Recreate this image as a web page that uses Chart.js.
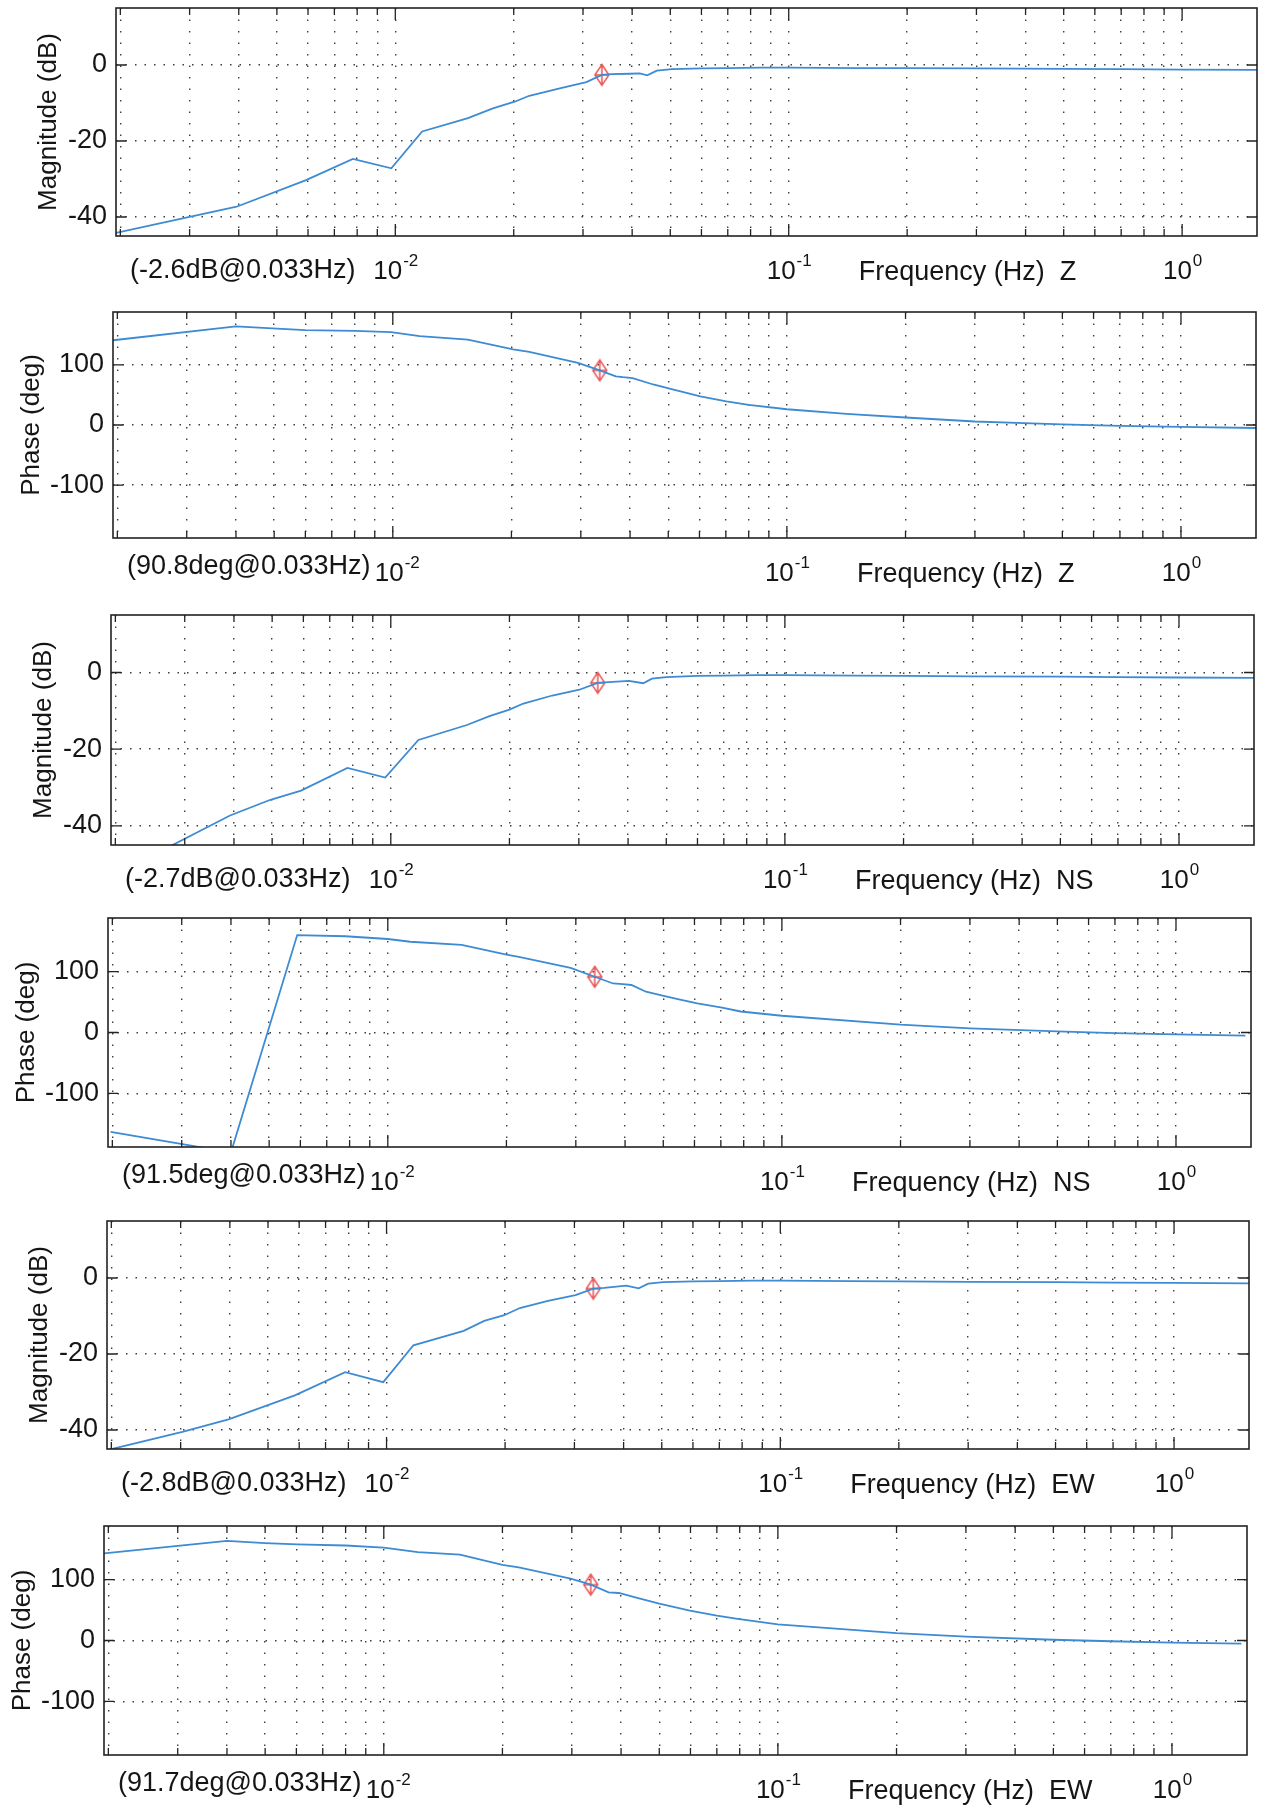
<!DOCTYPE html>
<html>
<head>
<meta charset="utf-8">
<script src="https://cdn.jsdelivr.net/npm/chart.js@4.4.0/dist/chart.umd.min.js"></script>
<style>
  body { margin: 0; background: #fff; width: 1274px; height: 1806px; position: relative; overflow: hidden; }
  .panel { position: absolute; left: 0; }
</style>
</head>
<body>
<script>
// ---- data ----
const magFreqZ = [0.00195, 0.00395, 0.00593, 0.0078, 0.00977, 0.0117, 0.0153, 0.0177, 0.0202, 0.0219, 0.0265, 0.0306, 0.0335, 0.0355, 0.0395, 0.0418, 0.0437, 0.0462, 0.0505, 0.06, 0.07, 0.085, 0.1, 0.15, 0.2, 0.3, 0.5, 0.7, 1.0, 1.55];
const magZ = [-44.2, -37.3, -30.3, -24.7, -27.2, -17.5, -14.0, -11.4, -9.6, -8.1, -6.0, -4.5, -2.6, -2.4, -2.3, -2.2, -2.7, -1.5, -1.1, -0.9, -0.8, -0.7, -0.7, -0.8, -0.8, -0.9, -1.0, -1.1, -1.2, -1.3];

const phaseFreqZ = [0.00195, 0.004, 0.00508, 0.006, 0.008, 0.0099, 0.0117, 0.0155, 0.0202, 0.0222, 0.0295, 0.0335, 0.0368, 0.0384, 0.0406, 0.0458, 0.0504, 0.0603, 0.0702, 0.08, 0.1, 0.1417, 0.2, 0.3, 0.4, 0.5, 0.7, 1.0, 1.55];
const phaseZ = [141, 164, 160.5, 157.7, 156.7, 154.5, 147.8, 142.2, 125.7, 121.8, 103.3, 90.8, 81, 79.5, 78, 67.4, 60.4, 47.5, 39.4, 33.6, 26.2, 18.5, 12.5, 5.8, 3.2, 1.0, -1.5, -3.0, -5.0];

const magFreqNS = [0.00195, 0.00277, 0.00391, 0.00495, 0.00592, 0.00776, 0.00968, 0.01175, 0.0156, 0.0178, 0.02, 0.0217, 0.0257, 0.0301, 0.0335, 0.0357, 0.0402, 0.0437, 0.046, 0.05, 0.06, 0.07, 0.085, 0.1, 0.15, 0.2, 0.3, 0.5, 0.7, 1.0, 1.55];
const magNS = [-53, -45.2, -37.3, -33.2, -30.8, -24.9, -27.4, -17.6, -13.7, -11.4, -9.7, -8.1, -6.0, -4.5, -2.7, -2.5, -2.2, -2.8, -1.6, -1.2, -0.9, -0.8, -0.7, -0.7, -0.8, -0.9, -1.0, -1.1, -1.2, -1.3, -1.4];

const phaseFreqNS = [0.00198, 0.004, 0.00589, 0.0078, 0.01, 0.0114, 0.0154, 0.02, 0.0215, 0.0291, 0.0335, 0.0373, 0.0395, 0.0415, 0.0452, 0.0498, 0.0548, 0.061, 0.0705, 0.0786, 0.1, 0.2, 0.3, 0.5, 0.7, 1.0, 1.5];
const phaseNS = [-163, -197, 160, 158, 153.5, 149, 144, 128, 124, 106, 91.5, 80.5, 79.5, 78, 67, 60.4, 54.5, 48, 41, 34.5, 27.5, 12.8, 6.8, 1.8, -1.0, -3.0, -5.0];

const magFreqEW = [0.00195, 0.00303, 0.00397, 0.00585, 0.00785, 0.00981, 0.0117, 0.0157, 0.0177, 0.0199, 0.0218, 0.0257, 0.0302, 0.0335, 0.0357, 0.0406, 0.0437, 0.0462, 0.0505, 0.06, 0.07, 0.085, 0.1, 0.15, 0.2, 0.3, 0.5, 0.7, 1.0, 1.55];
const magEW = [-45.3, -40.5, -37.2, -30.9, -24.8, -27.4, -17.7, -13.9, -11.3, -9.8, -7.9, -6.0, -4.5, -2.8, -2.6, -2.0, -2.7, -1.5, -1.1, -0.9, -0.8, -0.7, -0.7, -0.8, -0.9, -1.0, -1.1, -1.2, -1.3, -1.4];

const phaseFreqEW = [0.00195, 0.004, 0.005, 0.00604, 0.008, 0.01, 0.0122, 0.0156, 0.02, 0.022, 0.0298, 0.0335, 0.0372, 0.0395, 0.0442, 0.05, 0.0598, 0.07, 0.079, 0.1, 0.2, 0.3, 0.5, 0.7, 1.0, 1.5];
const phaseEW = [143, 163.5, 160, 157.7, 156, 152.5, 145, 141, 124, 120, 101.4, 91.7, 79, 78, 69.7, 60.4, 49, 40.9, 35.6, 26.5, 12.0, 6.5, 1.2, -1.2, -3.5, -5.0];

const markerFreq = 0.0335;
const markerValues = [-2.6, 90.8, -2.7, 91.5, -2.8, 91.7];
const markerLabels = ["(-2.6dB@0.033Hz)", "(90.8deg@0.033Hz)", "(-2.7dB@0.033Hz)", "(91.5deg@0.033Hz)", "(-2.8dB@0.033Hz)", "(91.7deg@0.033Hz)"];
const components = ["Z", "Z", "NS", "NS", "EW", "EW"];

const xGridTicks = [0.002, 0.003, 0.004, 0.005, 0.006, 0.007, 0.008, 0.009,
  0.01, 0.02, 0.03, 0.04, 0.05, 0.06, 0.07, 0.08, 0.09,
  0.1, 0.2, 0.3, 0.4, 0.5, 0.6, 0.7, 0.8, 0.9, 1];
const xDecades = [0.01, 0.1, 1];
const xDecadeExp = ["-2", "-1", "0"];
const magTicks = [-40, -20, 0];
const phaseTicks = [-100, 0, 100];
const xMin = 0.00195, xMax = 1.55;
const magMin = -45, magMax = 15;
const phaseMin = -188, phaseMax = 188;

// ---- styles / layout ----
const FONT = '"Liberation Sans", Arial, Helvetica, sans-serif';
const BLUE = "#3d8bd3";
const RED = "#ea5656";
const TEXT = "#151515";
const GRID = "rgba(40,40,40,0.9)";
const PAD_TOP = 8;
const BELOW = 58;

const panels = [
  { top: 7,    bottom: 236,  left: 116, right: 1257, kind: "mag",   freq: magFreqZ,    vals: magZ },
  { top: 311,  bottom: 538,  left: 113, right: 1256, kind: "phase", freq: phaseFreqZ,  vals: phaseZ },
  { top: 614,  bottom: 845,  left: 111, right: 1254, kind: "mag",   freq: magFreqNS,   vals: magNS },
  { top: 917,  bottom: 1147, left: 108, right: 1251, kind: "phase", freq: phaseFreqNS, vals: phaseNS },
  { top: 1220, bottom: 1449, left: 107, right: 1249, kind: "mag",   freq: magFreqEW,   vals: magEW },
  { top: 1525, bottom: 1755, left: 104, right: 1247, kind: "phase", freq: phaseFreqEW, vals: phaseEW }
];

function makeMarker() {
  const c = document.createElement("canvas");
  c.width = 18; c.height = 24;
  const g = c.getContext("2d");
  g.strokeStyle = RED;
  g.lineWidth = 1.5;
  g.beginPath();
  g.moveTo(9, 1.5); g.lineTo(16, 12); g.lineTo(9, 22.5); g.lineTo(2, 12); g.closePath();
  g.moveTo(9, 1.5); g.lineTo(9, 22.5);
  g.moveTo(2, 12); g.lineTo(16, 12);
  g.stroke();
  return c;
}
const markerImg = makeMarker();

function drawPow(ctx, x, y, exp) {
  ctx.textAlign = "left";
  ctx.textBaseline = "alphabetic";
  ctx.font = "26px " + FONT;
  const w1 = ctx.measureText("10").width;
  ctx.font = "17px " + FONT;
  const w2 = ctx.measureText(exp).width;
  const x0 = x - (w1 + w2) / 2;
  ctx.font = "26px " + FONT;
  ctx.fillText("10", x0, y);
  ctx.font = "17px " + FONT;
  ctx.fillText(exp, x0 + w1 + 1, y - 13);
}

const bodeFrame = {
  id: "bodeFrame",
  afterDraw(chart, args, opts) {
    const ctx = chart.ctx;
    const a = chart.chartArea;
    const xs = chart.scales.x, ys = chart.scales.y;
    ctx.save();
    ctx.setLineDash([]);
    ctx.strokeStyle = "#222";
    ctx.lineWidth = 1.6;
    ctx.strokeRect(a.left, a.top, a.right - a.left, a.bottom - a.top);

    // inward tick marks
    ctx.lineWidth = 1.3;
    ctx.beginPath();
    xGridTicks.forEach(v => {
      const px = xs.getPixelForValue(v);
      const len = xDecades.includes(v) ? 12 : 7;
      ctx.moveTo(px, a.bottom); ctx.lineTo(px, a.bottom - len);
      ctx.moveTo(px, a.top); ctx.lineTo(px, a.top + len);
    });
    opts.yTicks.forEach(v => {
      const py = ys.getPixelForValue(v);
      ctx.moveTo(a.left, py); ctx.lineTo(a.left + 10, py);
      ctx.moveTo(a.right, py); ctx.lineTo(a.right - 10, py);
    });
    ctx.stroke();

    // x labels
    ctx.fillStyle = TEXT;
    xDecades.forEach((v, i) => drawPow(ctx, xs.getPixelForValue(v) + opts.decShift[i], a.bottom + 43, xDecadeExp[i]));

    ctx.font = "27px " + FONT;
    ctx.textAlign = "left";
    ctx.textBaseline = "alphabetic";
    ctx.fillText(opts.note, a.left + 14, a.bottom + opts.noteDy);
    ctx.fillText("Frequency (Hz)  " + opts.comp, xs.getPixelForValue(0.1) + 70, a.bottom + 44);

    // y title
    ctx.font = "26px " + FONT;
    ctx.save();
    ctx.translate(a.left - opts.titleOffset, (a.top + a.bottom) / 2);
    ctx.rotate(-Math.PI / 2);
    ctx.textAlign = "center";
    ctx.textBaseline = "middle";
    ctx.fillText(opts.title, 0, 0);
    ctx.restore();

    ctx.restore();
  }
};

function noPad(s) {
  s.paddingTop = 0; s.paddingBottom = 0; s.paddingLeft = 0; s.paddingRight = 0;
}

panels.forEach((p, i) => {
  const isMag = p.kind === "mag";
  const chartH = p.bottom - p.top;
  const H = PAD_TOP + chartH + BELOW;
  const div = document.createElement("div");
  div.className = "panel";
  div.style.top = (p.top - PAD_TOP) + "px";
  const canvas = document.createElement("canvas");
  canvas.width = 1274;
  canvas.height = H;
  div.appendChild(canvas);
  document.body.appendChild(div);

  const yTicks = isMag ? magTicks : phaseTicks;

  new Chart(canvas.getContext("2d"), {
    type: "line",
    data: {
      datasets: [
        {
          data: p.freq.map((f, k) => ({ x: f, y: p.vals[k] })),
          borderColor: BLUE,
          borderWidth: 1.8,
          pointRadius: 0,
          tension: 0,
          fill: false
        },
        {
          data: [{ x: markerFreq, y: markerValues[i] }],
          showLine: false,
          pointStyle: markerImg,
          pointRadius: 8,
          borderColor: RED
        }
      ]
    },
    options: {
      responsive: false,
      animation: false,
      events: [],
      layout: { padding: { top: PAD_TOP, left: 0, right: 1274 - p.right, bottom: 0 } },
      plugins: {
        legend: { display: false },
        tooltip: { enabled: false },
        bodeFrame: {
          yTicks,
          note: markerLabels[i],
          noteDy: isMag ? 42 : 36,
          decShift: isMag ? [0, 0, 0] : [4, 0, 0],
          comp: components[i],
          title: isMag ? "Magnitude (dB)" : "Phase (deg)",
          titleOffset: isMag ? 67 : 81
        }
      },
      scales: {
        x: {
          type: "logarithmic",
          min: xMin,
          max: xMax,
          afterBuildTicks: s => { s.ticks = xGridTicks.map(v => ({ value: v })); },
          afterFit: s => { s.height = BELOW; noPad(s); },
          ticks: { display: false },
          grid: { color: GRID, lineWidth: 1.4, drawTicks: false },
          border: { display: false, dash: [1.5, 10] }
        },
        y: {
          min: isMag ? magMin : phaseMin,
          max: isMag ? magMax : phaseMax,
          afterBuildTicks: s => { s.ticks = yTicks.map(v => ({ value: v })); },
          afterFit: s => { s.width = p.left; noPad(s); },
          ticks: { font: { family: FONT, size: 27 }, color: TEXT, padding: 9 },
          grid: { color: GRID, lineWidth: 1.4, drawTicks: false },
          border: { display: false, dash: [1.5, 8] }
        }
      }
    },
    plugins: [bodeFrame]
  });
});
</script>
</body>
</html>
